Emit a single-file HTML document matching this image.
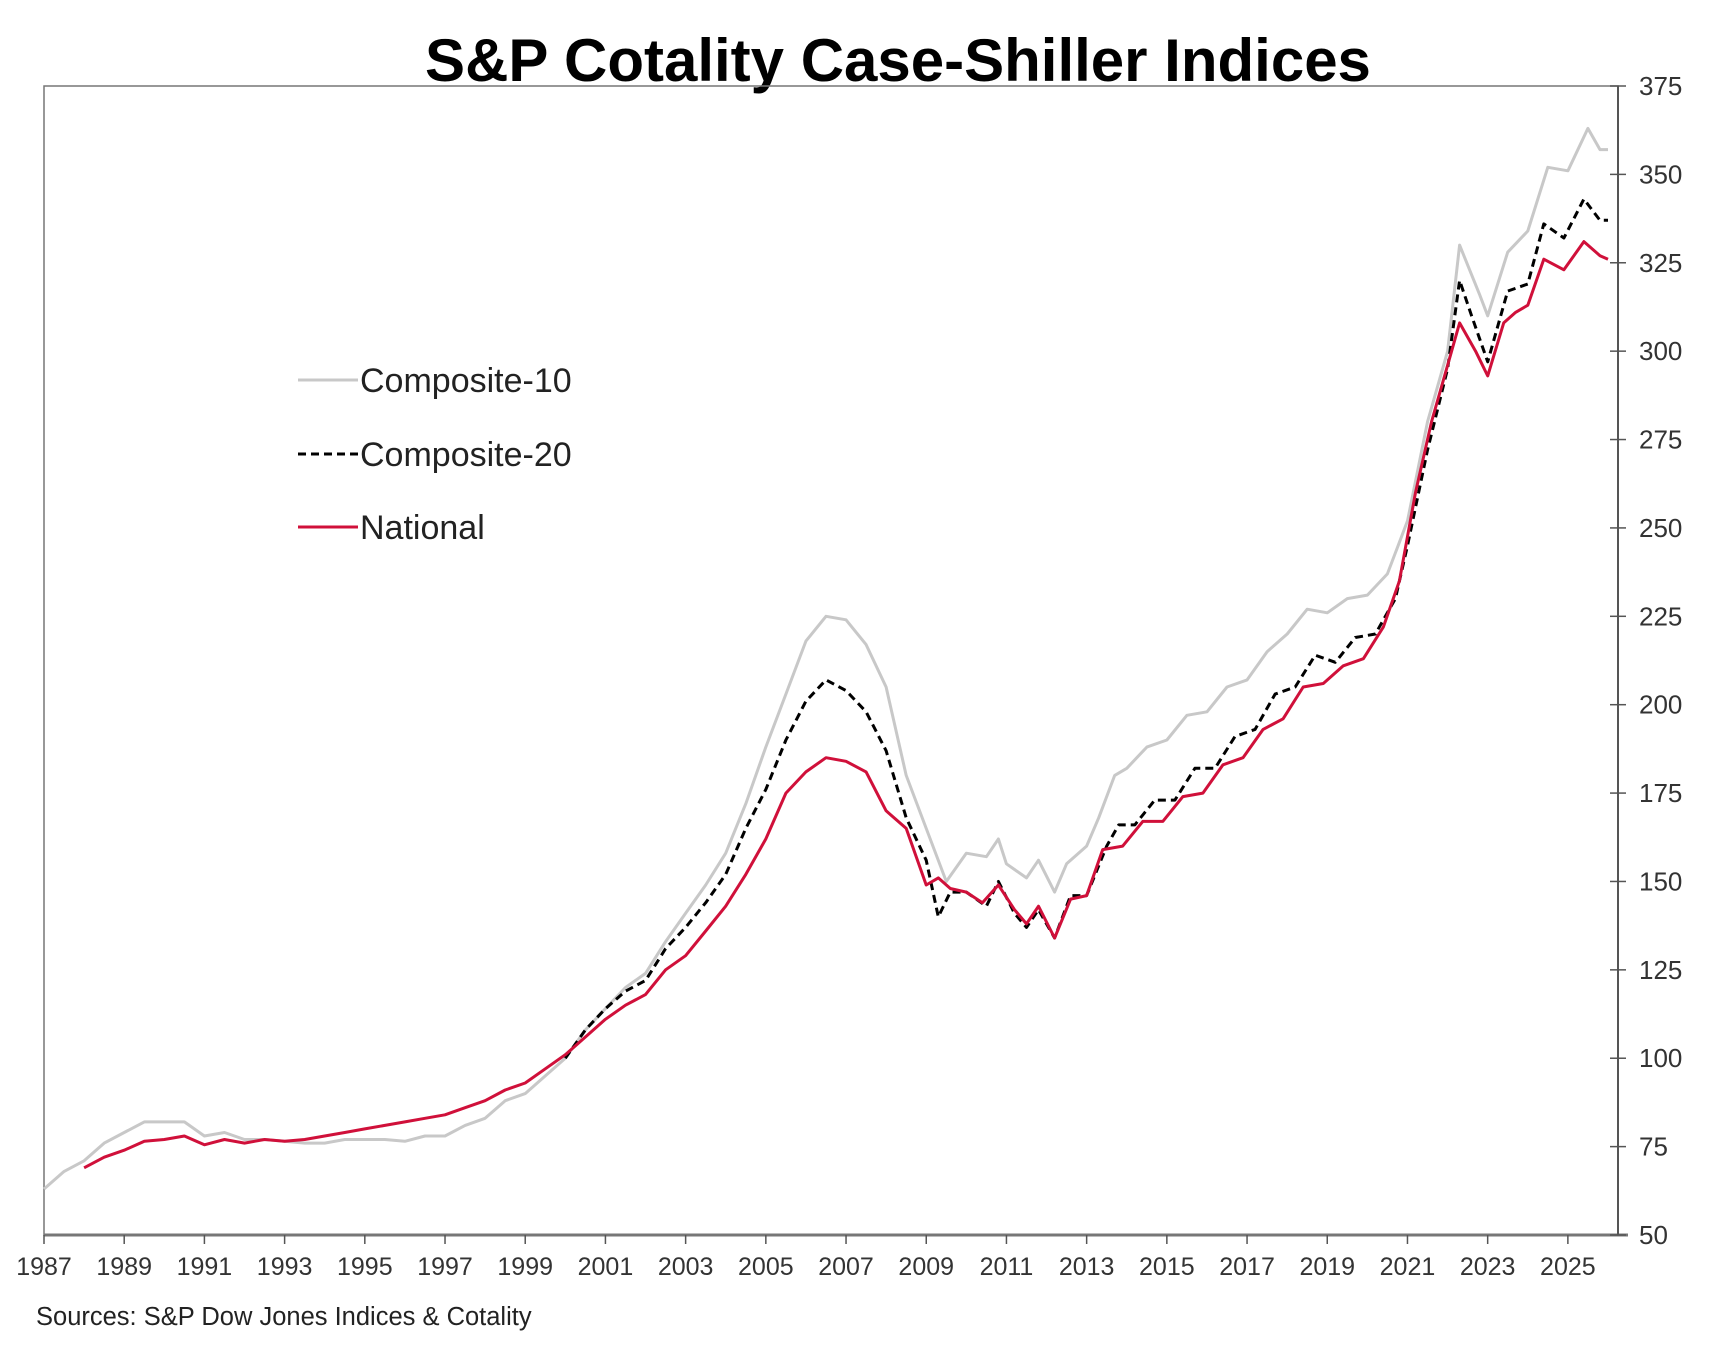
<!DOCTYPE html>
<html><head><meta charset="utf-8"><style>
html,body{margin:0;padding:0;background:#fff;}
svg{display:block;font-family:"Liberation Sans",Arial,sans-serif;}
</style></head><body>
<svg id="chart" width="1718" height="1354" viewBox="0 0 1718 1354">
<text x="898" y="81" text-anchor="middle" font-size="60" font-weight="bold" fill="#000">S&amp;P Cotality Case-Shiller Indices</text>
<g id="axes"></g>
<g id="series"></g>
<g>
<g><line x1="298" y1="380" x2="358" y2="380" stroke="#c8c8c8" stroke-width="3"/><text x="360" y="392" font-size="34" fill="#222">Composite-10</text></g>
<g><line x1="298" y1="454" x2="358" y2="454" stroke="#000" stroke-width="3" stroke-dasharray="8,5"/><text x="360" y="466" font-size="34" fill="#222">Composite-20</text></g>
<g><line x1="298" y1="527" x2="358" y2="527" stroke="#d0103a" stroke-width="3"/><text x="360" y="539" font-size="34" fill="#222">National</text></g>
</g>
<text x="36" y="1325" font-size="25.5" fill="#222">Sources: S&amp;P Dow Jones Indices &amp; Cotality</text>
</svg>
<script>
const yTicks=[50,75,100,125,150,175,200,225,250,275,300,325,350,375];
const xTicks=[1987,1989,1991,1993,1995,1997,1999,2001,2003,2005,2007,2009,2011,2013,2015,2017,2019,2021,2023,2025];
const c10Dates=[1987,1987.5,1988,1988.5,1989,1989.5,1990,1990.5,1991,1991.5,1992,1992.5,1993,1993.5,1994,1994.5,1995,1995.5,1996,1996.5,1997,1997.5,1998,1998.5,1999,1999.5,2000,2000.5,2001,2001.5,2002,2002.5,2003,2003.5,2004,2004.5,2005,2005.5,2006,2006.5,2007,2007.5,2008,2008.5,2009,2009.5,2010,2010.5,2010.8,2011,2011.5,2011.8,2012.2,2012.5,2013,2013.3,2013.7,2014,2014.5,2015,2015.5,2016,2016.5,2017,2017.5,2018,2018.5,2019,2019.5,2020,2020.5,2021,2021.5,2022,2022.3,2022.8,2023,2023.5,2024,2024.5,2025,2025.5,2025.8,2026];
const c10Values=[63,68,71,76,79,82,82,82,78,79,77,77,76.5,76,76,77,77,77,76.5,78,78,81,83,88,90,95,100,108,114,120,124,133,141,149,158,172,188,203,218,225,224,217,205,180,165,150,158,157,162,155,151,156,147,155,160,168,180,182,188,190,197,198,205,207,215,220,227,226,230,231,237,252,280,300,330,316,310,328,334,352,351,363,357,357];
const c20Dates=[2000,2000.5,2001,2001.5,2002,2002.5,2003,2003.5,2004,2004.5,2005,2005.5,2006,2006.5,2007,2007.5,2008,2008.5,2009,2009.3,2009.6,2010,2010.5,2010.8,2011.2,2011.5,2011.8,2012.2,2012.6,2013,2013.5,2013.8,2014.2,2014.7,2015.2,2015.7,2016.2,2016.7,2017.2,2017.7,2018.2,2018.7,2019.2,2019.7,2020.2,2020.7,2021,2021.5,2022,2022.3,2022.6,2023,2023.5,2024,2024.4,2024.9,2025.4,2025.8,2026];
const c20Values=[100,108,114,119,122,131,137,144,152,165,176,190,201,207,204,198,187,168,156,140,147,147,143,150,141,137,142,134,146,146,160,166,166,173,173,182,182,191,193,203,205,214,212,219,220,230,245,272,295,320,310,297,317,319,336,332,343,337,337];
const natDates=[1988,1988.5,1989,1989.5,1990,1990.5,1991,1991.5,1992,1992.5,1993,1993.5,1994,1994.5,1995,1995.5,1996,1996.5,1997,1997.5,1998,1998.5,1999,1999.5,2000,2000.5,2001,2001.5,2002,2002.5,2003,2003.5,2004,2004.5,2005,2005.5,2006,2006.5,2007,2007.5,2008,2008.5,2009,2009.3,2009.6,2010,2010.4,2010.8,2011.2,2011.5,2011.8,2012.2,2012.6,2013,2013.4,2013.9,2014.4,2014.9,2015.4,2015.9,2016.4,2016.9,2017.4,2017.9,2018.4,2018.9,2019.4,2019.9,2020.4,2020.8,2021.2,2021.6,2022.1,2022.3,2022.7,2023,2023.4,2023.7,2024,2024.4,2024.9,2025.4,2025.8,2026];
const natValues=[69,72,74,76.5,77,78,75.5,77,76,77,76.5,77,78,79,80,81,82,83,84,86,88,91,93,97,101,106,111,115,118,125,129,136,143,152,162,175,181,185,184,181,170,165,149,151,148,147,144,149,142,138,143,134,145,146,159,160,167,167,174,175,183,185,193,196,205,206,211,213,222,235,260,280,300,308,300,293,308,311,313,326,323,331,327,326];

const NS='http://www.w3.org/2000/svg';
const X0=44,X1=1618,Y0=1235,Y1=86;
const xMin=1987,xMax=2026.25,yMin=50,yMax=375;
function xs(t){return X0+(t-xMin)/(xMax-xMin)*(X1-X0);}
function ys(v){return Y0-(v-yMin)/(yMax-yMin)*(Y0-Y1);}
function mk(tag,attrs,parent){const e=document.createElementNS(NS,tag);for(const k in attrs)e.setAttribute(k,attrs[k]);parent.appendChild(e);return e;}
const axes=document.getElementById('axes');
const frame=mk('rect',{x:X0,y:Y1,width:X1-X0,height:Y0-Y1,fill:'none',stroke:'#777','stroke-width':1.5},axes);


const xl=mk('line',{x1:X0,y1:Y0,x2:X1+10,y2:Y0,stroke:'#777','stroke-width':3},axes);


const yl=mk('line',{x1:X1,y1:Y1,x2:X1,y2:Y0,stroke:'#555','stroke-width':2},axes);


yTicks.forEach(v=>{
  const y=ys(v);
  mk('line',{x1:X1-8,y1:y,x2:X1+8,y2:y,stroke:'#555','stroke-width':1.5},axes);
  const t=mk('text',{x:1639,y:y+9,'font-size':26,fill:'#333'},axes);
  t.textContent=v;
  
  
});
xTicks.forEach(v=>{
  const x=xs(v);
  mk('line',{x1:x,y1:Y0,x2:x,y2:Y0+9,stroke:'#555','stroke-width':1.5},axes);
  const t=mk('text',{x:x,y:1275,'font-size':25,fill:'#333','text-anchor':'middle'},axes);
  t.textContent=v;
  
  
});
const ser=document.getElementById('series');
function line(d,v,attrs,name){
  const pts=d.map((t,i)=>xs(t).toFixed(1)+','+ys(v[i]).toFixed(1)).join(' ');
  const p=mk('polyline',Object.assign({points:pts,fill:'none','stroke-linejoin':'round'},attrs),ser);
  
  
}
line(c10Dates,c10Values,{stroke:'#c8c8c8','stroke-width':3},'composite-10-line');
line(c20Dates,c20Values,{stroke:'#000','stroke-width':3,'stroke-dasharray':'8,5'},'composite-20-line');
line(natDates,natValues,{stroke:'#d0103a','stroke-width':3},'national-line');
</script>
</body></html>
